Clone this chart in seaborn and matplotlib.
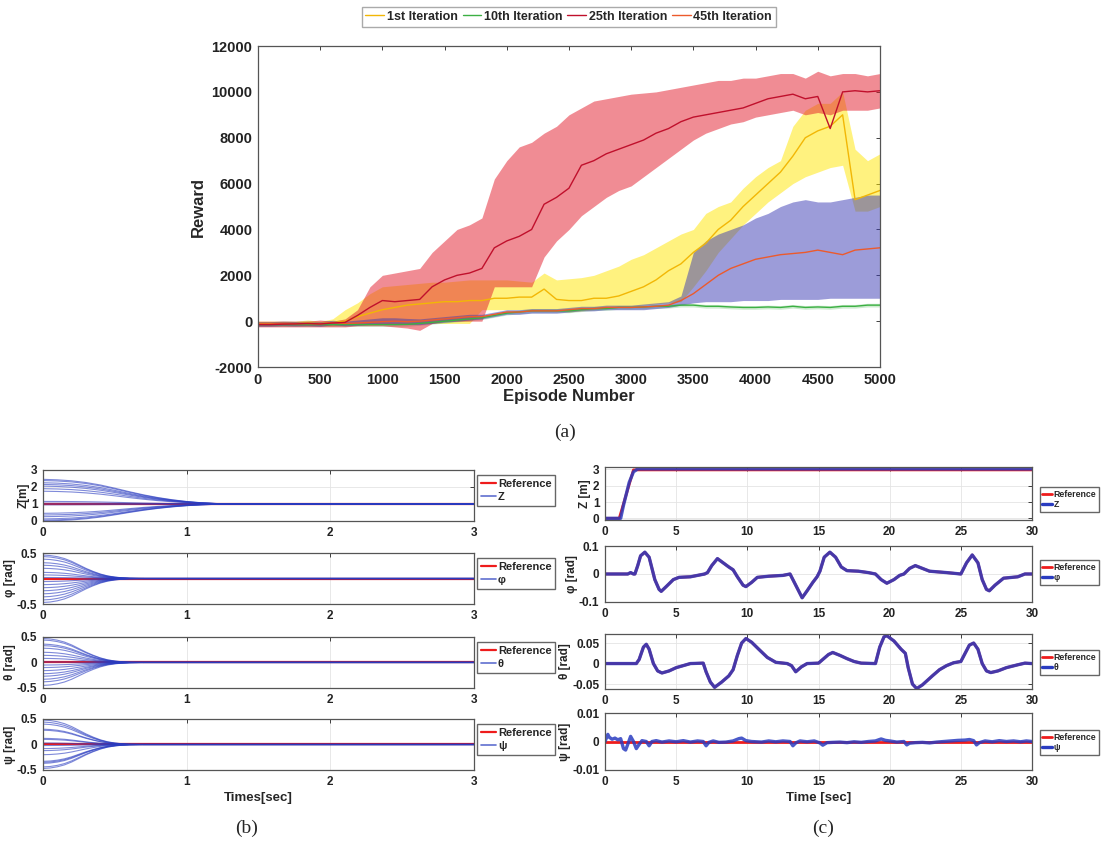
import numpy as np
import pandas as pd
import matplotlib
matplotlib.use('Agg')
import matplotlib.pyplot as plt
from matplotlib.lines import Line2D
import seaborn as sns

# ---------------- (a) reward vs episode, read every 100 episodes ----------------
episodes = list(range(0, 5001, 100))

it1_mean = [-100, -100, -100, -100, -80, -100, -60, 0, 200, 350,
            500, 600, 700, 750, 800, 850, 850, 900, 900, 1000,
            1000, 1050, 1050, 1400, 950, 900, 900, 1000, 1000, 1100,
            1300, 1500, 1800, 2200, 2500, 3000, 3400, 4000, 4400, 5000,
            5500, 6000, 6500, 7200, 8000, 8300, 8500, 9000, 5300, 5500,
            5700]
it1_low = [-200, -200, -200, -200, -200, -200, -200, -150, -100, -100,
           -100, -100, -100, -100, -100, -100, -100, -100, 500, 500,
           500, 500, 500, 500, 450, 400, 450, 500, 550, 600,
           650, 700, 750, 800, 850, 1500, 2200, 3000, 3600, 4200,
           4700, 5200, 5600, 6000, 6300, 6500, 6700, 6800, 4800, 4800,
           5000]
it1_high = [0, 0, 0, 0, 50, 0, 100, 500, 800, 1200,
            1500, 1550, 1600, 1650, 1700, 1700, 1750, 1800, 1800, 1800,
            1800, 1750, 1700, 2100, 1800, 1850, 1900, 2000, 2200, 2400,
            2700, 2900, 3200, 3500, 3800, 4000, 4700, 5000, 5200, 5800,
            6300, 6700, 7000, 8500, 9200, 9500, 9500, 10000, 7500, 7000,
            7300]

it10_mean = [-150, -150, -150, -150, -150, -150, -150, -150, -150, -150,
             -150, -150, -140, -100, -50, 0, 50, 100, 150, 250,
             350, 400, 450, 450, 450, 450, 500, 550, 550, 600,
             600, 620, 650, 650, 700, 700, 650, 650, 620, 600,
             600, 620, 600, 650, 600, 620, 600, 650, 650, 700,
             700]
it10_low = [v - 80 for v in it10_mean]
it10_high = [v + 80 for v in it10_mean]

it25_mean = [-150, -150, -130, -120, -100, -120, -80, -50, 250, 600,
             900, 850, 900, 950, 1500, 1800, 2000, 2100, 2300, 3200,
             3500, 3700, 4000, 5100, 5400, 5800, 6800, 7000, 7300, 7500,
             7700, 7900, 8200, 8400, 8700, 8900, 9000, 9100, 9200, 9300,
             9500, 9700, 9800, 9900, 9700, 9800, 8400, 10000, 10050, 10000,
             10050]
it25_low = [-250, -250, -250, -250, -250, -250, -250, -250, -200, -200,
            -200, -250, -300, -400, -100, 0, 0, 0, 0, 1500,
            1500, 1500, 1500, 2800, 3500, 4000, 4600, 5000, 5400, 5700,
            5900, 6300, 6700, 7100, 7500, 7900, 8200, 8400, 8600, 8700,
            8900, 9000, 9100, 9200, 9000, 9100, 9000, 9200, 9200, 9200,
            9300]
it25_high = [0, 0, 0, 0, 0, 50, 0, 100, 500, 1500,
             2000, 2100, 2200, 2300, 3000, 3500, 4000, 4200, 4500, 6200,
             7000, 7600, 7800, 8200, 8500, 9000, 9300, 9600, 9700, 9800,
             9900, 9950, 10000, 10100, 10200, 10300, 10400, 10500, 10500, 10600,
             10600, 10700, 10800, 10800, 10600, 10900, 10700, 10800, 10800, 10700,
             10800]

it45_mean = [-120, -120, -100, -110, -100, -120, -60, -100, -80, -50,
             -20, 0, -20, 0, 50, 100, 150, 200, 200, 300,
             400, 400, 450, 450, 450, 500, 550, 550, 600, 600,
             600, 620, 650, 700, 900, 1200, 1600, 2000, 2300, 2500,
             2700, 2800, 2900, 2950, 3000, 3100, 3000, 2900, 3100, 3150,
             3200]
it45_low = [-220, -220, -200, -210, -200, -220, -160, -200, -180, -150,
            -150, -150, -150, -150, -100, -50, 0, 50, 100, 200,
            300, 300, 350, 350, 350, 400, 450, 450, 500, 500,
            500, 500, 550, 600, 700, 800, 850, 850, 850, 900,
            900, 900, 950, 950, 950, 950, 1000, 1000, 1000, 1000,
            1000]
it45_high = [-20, -20, 0, -10, 0, -20, 40, 0, 50, 100,
             150, 150, 120, 100, 150, 200, 250, 300, 300, 400,
             500, 500, 550, 550, 550, 600, 650, 650, 700, 700,
             700, 750, 800, 850, 1100, 3000, 3500, 3800, 4000, 4200,
             4500, 4700, 5000, 5200, 5300, 5200, 5200, 5300, 5400, 5500,
             5500]

# ---------------- (b) convergence from many initial conditions ----------------
z_times = [0, 0.1, 0.2, 0.3, 0.4, 0.5, 0.6, 0.7, 0.8, 0.9, 1.0, 1.1, 1.2, 1.3, 3.0]
z_profile = [1.0, 0.98, 0.94, 0.87, 0.77, 0.64, 0.5, 0.37, 0.26, 0.17, 0.1, 0.05, 0.02, 0.0, 0.0]
z_starts = [2.45, 2.38, 2.25, 2.15, 2.05, 1.9, 1.75, 1.15, 1.05, 0.95, 0.45, 0.35, 0.25, 0.12, 0.05, 0.0]

ang_times = [0, 0.05, 0.1, 0.15, 0.2, 0.25, 0.3, 0.35, 0.4, 0.45, 0.5, 0.55, 0.6, 0.7, 3.0]
ang_profile = [1.0, 0.98, 0.93, 0.85, 0.73, 0.58, 0.43, 0.3, 0.19, 0.11, 0.06, 0.03, 0.01, 0.0, 0.0]
phi_starts = [0.46, 0.43, 0.38, 0.31, 0.26, 0.2, 0.12, 0.07, 0.02, -0.06, -0.12, -0.18, -0.24, -0.3, -0.36, -0.42, -0.47]
theta_starts = [0.47, 0.44, 0.36, 0.33, 0.28, 0.2, 0.14, 0.08, 0.01, -0.05, -0.1, -0.16, -0.22, -0.27, -0.33, -0.38, -0.45]
psi_starts = [0.48, 0.44, 0.4, 0.3, 0.28, 0.12, 0.1, 0.03, -0.02, -0.08, -0.12, -0.2, -0.33, -0.35, -0.37, -0.44, -0.47]

# ---------------- (c) trajectory tracking, (time, value) waypoints ----------------
z_ref_pts = [(0, 0), (1.0, 0), (2.0, 2.97), (30, 2.97)]
z_act_pts = [(0, 0), (1.1, 0), (1.3, 0.8), (1.7, 2.2), (2.0, 2.85), (2.3, 3.03), (30, 3.03)]

phi_pts = [(0, 0), (1.6, 0), (1.8, 0.005), (2.0, 0), (2.1, 0), (2.3, 0.03), (2.5, 0.065), (2.8, 0.078),
           (3.1, 0.06), (3.3, 0.02), (3.5, -0.02), (3.8, -0.055), (3.95, -0.062), (4.3, -0.045),
           (4.8, -0.02), (5.2, -0.012), (6.0, -0.01), (7.0, 0.0), (7.2, 0.005), (7.5, 0.03), (7.9, 0.055),
           (8.3, 0.04), (8.7, 0.025), (9.0, 0.015), (9.3, -0.01), (9.7, -0.04), (9.9, -0.045),
           (10.3, -0.03), (10.7, -0.012), (11.5, -0.008), (12.5, -0.005), (13.0, 0.0), (13.3, -0.03),
           (13.7, -0.07), (13.85, -0.085), (14.2, -0.06), (14.6, -0.03), (14.9, -0.01), (15.1, 0.01),
           (15.4, 0.06), (15.8, 0.078), (16.2, 0.06), (16.6, 0.025), (17.0, 0.012), (17.8, 0.01),
           (18.5, 0.005), (19.0, 0.0), (19.4, -0.02), (19.8, -0.033), (20.3, -0.02), (20.7, -0.005),
           (21.0, 0.0), (21.4, 0.02), (21.8, 0.03), (22.3, 0.02), (22.8, 0.01), (24.0, 0.005),
           (25.0, 0.0), (25.4, 0.04), (25.8, 0.068), (26.2, 0.04), (26.5, -0.02), (26.8, -0.055),
           (27.0, -0.06), (27.4, -0.04), (28.0, -0.015), (29.0, -0.01), (29.5, 0.0), (30, 0.0)]

theta_pts = [(0, 0), (2.2, 0), (2.4, 0.01), (2.7, 0.04), (2.9, 0.047), (3.1, 0.035), (3.4, 0.0),
             (3.7, -0.018), (4.0, -0.023), (4.5, -0.018), (5.0, -0.01), (5.5, -0.005), (6.0, 0.0),
             (6.9, 0.001), (7.1, -0.02), (7.4, -0.045), (7.7, -0.058), (8.2, -0.045), (8.7, -0.03),
             (9.0, -0.015), (9.3, 0.02), (9.6, 0.05), (9.9, 0.061), (10.3, 0.052), (10.8, 0.035),
             (11.4, 0.015), (12.0, 0.003), (12.8, 0.0), (13.1, -0.005), (13.4, -0.02), (13.8, -0.008),
             (14.2, 0.0), (15.0, 0.001), (15.3, 0.01), (15.7, 0.022), (16.0, 0.027), (16.5, 0.02),
             (17.0, 0.012), (17.5, 0.005), (18.0, 0.001), (19.0, 0.0), (19.3, 0.04), (19.6, 0.065),
             (19.8, 0.068), (20.3, 0.055), (20.8, 0.035), (21.1, 0.025), (21.3, -0.01), (21.6, -0.05),
             (21.9, -0.061), (22.3, -0.052), (23.0, -0.03), (23.5, -0.015), (24.0, -0.005),
             (24.5, 0.002), (25.0, 0.005), (25.3, 0.025), (25.6, 0.045), (25.9, 0.05), (26.2, 0.035),
             (26.5, 0.0), (26.8, -0.018), (27.1, -0.022), (27.6, -0.018), (28.2, -0.01), (29.0, -0.003),
             (29.5, 0.001), (30, 0.0)]

psi_ref_pts = [(0, 0.0), (30, 0.0)]
psi_pts = [(0, 0.0), (0.2, 0.0025), (0.3, 0.0015), (0.5, 0.0008), (0.7, 0.0012), (0.9, 0.0006),
           (1.1, 0.001), (1.3, -0.0025), (1.45, -0.003), (1.6, -0.001), (1.8, 0.0018), (2.0, 0.0),
           (2.2, -0.0025), (2.4, -0.001), (2.6, 0.0003), (2.9, 0.0), (3.1, -0.0015), (3.3, 0.0),
           (3.6, 0.0003), (4.0, -0.0002), (4.5, 0.0002), (5.0, -0.0001), (5.5, 0.0003), (6.0, -0.0002),
           (6.5, 0.0002), (6.9, 0.0), (7.1, -0.0015), (7.3, -0.0003), (7.6, 0.0002), (8.0, -0.0003),
           (8.5, -0.0002), (9.0, 0.0002), (9.4, 0.001), (9.6, 0.0012), (9.9, 0.0003), (10.3, 0.0),
           (11.0, -0.0002), (11.5, 0.0002), (12.0, -0.0001), (12.5, 0.0002), (13.0, 0.0),
           (13.2, -0.0015), (13.4, -0.0005), (13.7, 0.0002), (14.2, -0.0001), (14.7, 0.0002),
           (15.1, -0.0005), (15.3, -0.0013), (15.6, -0.0004), (16.0, -0.0003), (16.5, -0.0002),
           (17.0, -0.0004), (17.5, -0.0001), (18.0, -0.0003), (18.5, 0.0), (19.0, 0.0002),
           (19.4, 0.0009), (19.7, 0.0004), (20.0, 0.0002), (20.5, -0.0002), (21.0, 0.0),
           (21.2, -0.0012), (21.4, -0.0006), (21.8, -0.0004), (22.3, -0.0003), (22.8, -0.0005),
           (23.3, -0.0002), (23.8, 0.0), (24.3, 0.0002), (24.8, 0.0004), (25.3, 0.0005),
           (25.6, 0.0007), (25.9, 0.0003), (26.1, -0.0012), (26.3, -0.0004), (26.7, 0.0002),
           (27.2, -0.0001), (27.7, 0.0003), (28.2, 0.0), (28.7, 0.0002), (29.2, -0.0001),
           (29.6, 0.0002), (30.0, 0.0)]

###################################################

sns.set_style('white')
plt.rcParams['font.family'] = ['Liberation Sans', 'DejaVu Sans']
plt.rcParams['font.weight'] = 'bold'
plt.rcParams['axes.labelweight'] = 'bold'
plt.rcParams['axes.unicode_minus'] = False

RED = '#ee1c1c'
BLUE = '#2a3cc0'
SERIF = ['Liberation Serif', 'DejaVu Serif']


def style(ax, fs, pad=3):
    ax.tick_params(direction='in', length=3, width=0.6, top=True, right=True,
                   labelsize=fs, colors='#222222', pad=pad)
    for s in ax.spines.values():
        s.set_color('#555555')
        s.set_linewidth(0.9)


fig = plt.figure(figsize=(11.02, 8.43), dpi=100)

# ---- (a) ----
ax = fig.add_axes([0.2341, 0.5646, 0.5644, 0.3808])
ax.fill_between(episodes, it1_low, it1_high, color='#ffe600', alpha=0.5, lw=0)
sns.lineplot(x=episodes, y=it1_mean, color='#f2b705', lw=1.0, ax=ax, label='1st Iteration')
ax.fill_between(episodes, it10_low, it10_high, color='#3cb043', alpha=0.25, lw=0)
sns.lineplot(x=episodes, y=it10_mean, color='#3cb043', lw=1.0, ax=ax, label='10th Iteration')
sns.lineplot(x=episodes, y=it45_mean, color='#ec5a2c', lw=1.0, ax=ax, label='45th Iteration')
ax.fill_between(episodes, it25_low, it25_high, color='#e31a2a', alpha=0.5, lw=0)
ax.fill_between(episodes, it45_low, it45_high, color='#3a3ab4', alpha=0.5, lw=0)
sns.lineplot(x=episodes, y=it25_mean, color='#c0102c', lw=1.0, ax=ax, label='25th Iteration')

handles, labels = ax.get_legend_handles_labels()
order = [labels.index(n) for n in ['1st Iteration', '10th Iteration', '25th Iteration', '45th Iteration']]
ax.get_legend().remove()
fig.legend([handles[i] for i in order], [labels[i] for i in order], loc='center',
           bbox_to_anchor=(0.516, 0.98), ncol=4, fontsize=9, handlelength=1.5,
           handletextpad=0.2, columnspacing=0.4, borderpad=0.3, fancybox=False,
           edgecolor='#aaaaaa', framealpha=1)

ax.set_xlim(0, 5000)
ax.set_ylim(-2000, 12000)
ax.set_xticks(range(0, 5001, 500))
ax.set_yticks(range(-2000, 12001, 2000))
ax.set_xlabel('Episode Number', fontsize=12, labelpad=2)
ax.set_ylabel('Reward', fontsize=12, labelpad=4)
style(ax, 10.5, pad=4)
fig.text(0.5127, 0.4875, '(a)', family=SERIF, weight='normal', fontsize=14, ha='center', va='center')

# ---- (b) ----
left_specs = [
    (z_times, z_profile, z_starts, 1.0, 'Z[m]', [0, 1, 2, 3], ['0', '1', '2', '3'], (0, 3), 'Z', 0.3820),
    (ang_times, ang_profile, phi_starts, 0.0, 'φ [rad]', [-0.5, 0, 0.5], ['-0.5', '0', '0.5'], (-0.5, 0.5), 'φ', 0.2835),
    (ang_times, ang_profile, theta_starts, 0.0, 'θ [rad]', [-0.5, 0, 0.5], ['-0.5', '0', '0.5'], (-0.5, 0.5), 'θ', 0.1839),
    (ang_times, ang_profile, psi_starts, 0.0, 'ψ [rad]', [-0.5, 0, 0.5], ['-0.5', '0', '0.5'], (-0.5, 0.5), 'ψ', 0.0866),
]
for times, profile, starts, target, ylab, yt, ytl, ylim, name, bottom in left_specs:
    axl = fig.add_axes([0.039, bottom, 0.3911, 0.0605])
    rows = []
    for k, s in enumerate(starts):
        for t, p in zip(times, profile):
            rows.append((k, t, target + (s - target) * p))
    runs = pd.DataFrame(rows, columns=['run', 't', 'val'])
    sns.lineplot(x=[times[0], times[-1]], y=[target, target], color=RED, lw=1.6, ax=axl)
    sns.lineplot(data=runs, x='t', y='val', units='run', estimator=None, color=BLUE,
                 lw=0.8, alpha=0.6, ax=axl, legend=False)
    axl.set_xlim(0, 3)
    axl.set_ylim(*ylim)
    axl.set_xticks([0, 1, 2, 3])
    axl.set_yticks(yt)
    axl.set_yticklabels(ytl)
    axl.set_xlabel('')
    axl.set_ylabel(ylab, fontsize=8.5, labelpad=1)
    axl.grid(True, color='#e4e4e4', lw=0.6)
    style(axl, 8.5, pad=4)
    axl.legend([Line2D([], [], color=RED, lw=1.6), Line2D([], [], color='#6070d0', lw=1.2)],
               ['Reference', name], loc='upper left', bbox_to_anchor=(1.008, 0.9),
               borderaxespad=0, fontsize=8, handlelength=1.3, handletextpad=0.2,
               labelspacing=0.25, borderpad=0.35, fancybox=False, edgecolor='#666666',
               framealpha=1)
axl.set_xlabel('Times[sec]', fontsize=9.5, labelpad=3)
fig.text(0.2241, 0.0178, '(b)', family=SERIF, weight='normal', fontsize=14, ha='center', va='center')

# ---- (c) ----
right_specs = [
    (z_ref_pts, z_act_pts, 'Z [m]', [0, 1, 2, 3], ['0', '1', '2', '3'], (-0.1, 3.15), 'Z', 0.3832, 0.0629, 0.62),
    (phi_pts, phi_pts, 'φ [rad]', [-0.1, 0, 0.1], ['-0.1', '0', '0.1'], (-0.1, 0.1), 'φ', 0.2859, 0.0664, 0.75),
    (theta_pts, theta_pts, 'θ [rad]', [-0.05, 0, 0.05], ['-0.05', '0', '0.05'], (-0.062, 0.072), 'θ', 0.1827, 0.0652, 0.71),
    (psi_ref_pts, psi_pts, 'ψ [rad]', [-0.01, 0, 0.01], ['-0.01', '0', '0.01'], (-0.01, 0.01), 'ψ', 0.0866, 0.0676, 0.70),
]
for ref_pts, act_pts, ylab, yt, ytl, ylim, name, bottom, height, leg_top in right_specs:
    axr = fig.add_axes([0.549, bottom, 0.3875, height])
    rt, rv = zip(*ref_pts)
    at, av = zip(*act_pts)
    sns.lineplot(x=list(rt), y=list(rv), color=RED, lw=2.0, ax=axr, sort=False)
    sns.lineplot(x=list(at), y=list(av), color=BLUE, lw=2.4, alpha=0.85, ax=axr, sort=False)
    axr.set_xlim(0, 30)
    axr.set_ylim(*ylim)
    axr.set_xticks(range(0, 31, 5))
    axr.set_yticks(yt)
    axr.set_yticklabels(ytl)
    axr.set_xlabel('')
    axr.set_ylabel(ylab, fontsize=8.5, labelpad=1)
    axr.grid(True, color='#e4e4e4', lw=0.6)
    style(axr, 8.5, pad=4)
    axr.legend([Line2D([], [], color=RED, lw=2.0), Line2D([], [], color=BLUE, lw=2.4)],
               ['Reference', name], loc='upper left', bbox_to_anchor=(1.018, leg_top),
               borderaxespad=0, fontsize=6.3, handlelength=1.1, handletextpad=0.2,
               labelspacing=0.15, borderpad=0.3, fancybox=False, edgecolor='#666666',
               framealpha=1)
axr.set_xlabel('Time [sec]', fontsize=9.5, labelpad=3)
fig.text(0.7468, 0.0178, '(c)', family=SERIF, weight='normal', fontsize=14, ha='center', va='center')

fig.savefig('out.png', dpi=100)
